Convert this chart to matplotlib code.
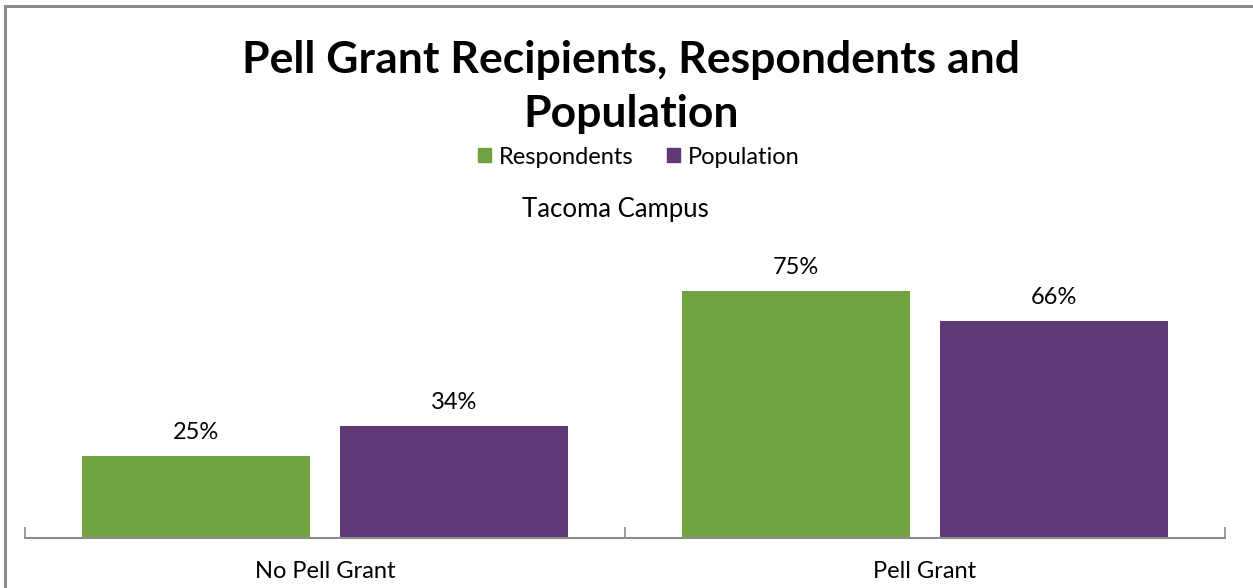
import matplotlib
matplotlib.use("Agg")
import matplotlib.pyplot as plt
from matplotlib.patches import Rectangle, Patch
import numpy as np

categories = ["No Pell Grant", "Pell Grant"]
series_names = ["Respondents", "Population"]
respondents = [25, 75]
population = [34, 66]
colors = ["#70A33F", "#5F3876"]

W, H = 1253, 588
fig = plt.figure(figsize=(W / 100, H / 100), dpi=100)
plt.rcParams["font.family"] = ["Lato", "DejaVu Sans"]

# outer chart frame
fig.patches.append(Rectangle((5 / W, -0.05), 1.2, (H - 6) / H + 0.05,
                             transform=fig.transFigure, fill=False,
                             edgecolor="#8c8c8c", linewidth=2.2))

ymax = 80
ax_h = ymax * 3.29
ax = fig.add_axes([25 / W, 50 / H, 1200 / W, ax_h / H])

x = np.arange(len(categories))
bw = 0.38
off = 0.215
for vals, name, c, dx in [(respondents, series_names[0], colors[0], -off),
                          (population, series_names[1], colors[1], off)]:
    bars = ax.bar(x + dx, vals, width=bw, color=c, label=name, zorder=2)
    for b, v in zip(bars, vals):
        ax.annotate(f"{v}%", (b.get_x() + b.get_width() / 2, v),
                    xytext=(0, 17), textcoords="offset points",
                    ha="center", va="center", fontsize=17, color="#000000")

ax.set_xlim(-0.5, 1.5)
ax.set_ylim(0, ymax)
for s in ["top", "right", "left"]:
    ax.spines[s].set_visible(False)
ax.spines["bottom"].set_color("#8c8c8c")
ax.spines["bottom"].set_linewidth(1.5)
ax.set_yticks([])
ax.set_xticks([-0.5, 0.5, 1.5])
ax.set_xticklabels([])
ax.tick_params(axis="x", direction="in", length=8, color="#8c8c8c", width=1.2)
for xi, lab in zip(x, categories):
    ax.annotate(lab, (xi, 0), xycoords=("data", "axes fraction"),
                xytext=(0, -24), textcoords="offset points",
                ha="center", va="center", fontsize=17)

fig.text(631 / W, 1 - 87 / H, "Pell Grant Recipients, Respondents and\nPopulation",
         ha="center", va="center", fontsize=32, fontweight="bold",
         linespacing=1.45)

handles = [Patch(color=colors[0]), Patch(color=colors[1])]
fig.legend(handles, series_names, loc="center", bbox_to_anchor=(639 / W, 1 - 157 / H),
           ncol=2, frameon=False, fontsize=17, handlelength=0.55, handleheight=0.55,
           handletextpad=0.35, columnspacing=1.4)

fig.text(615 / W, 1 - 209 / H, "Tacoma Campus", ha="center", va="center", fontsize=18.5)

fig.savefig("out.png", dpi=100)
